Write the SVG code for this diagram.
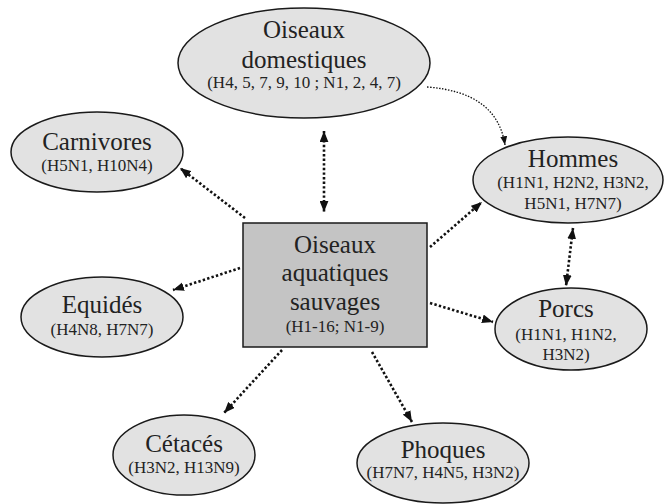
<svg xmlns="http://www.w3.org/2000/svg" width="666" height="504" viewBox="0 0 666 504" font-family="'Liberation Serif', 'DejaVu Serif', serif">
<style>
.node ellipse{fill:#e2e2e2;stroke:#1a1a1a;stroke-width:1.5}
.node rect{fill:#c4c4c4;stroke:#1a1a1a;stroke-width:1.5}
text{font-family:'Liberation Serif','DejaVu Serif',serif;fill:#222;text-anchor:middle}
.big{font-size:25px}
.small{font-size:17px}
.con{fill:none;stroke:#111;stroke-width:2.6;stroke-dasharray:2.4 2.2}
.thin{fill:none;stroke:#111;stroke-width:1.3;stroke-dasharray:1.5 1.5}
</style>
<defs>
<marker id="ah" viewBox="0 0 10 8" refX="10" refY="4" markerWidth="11" markerHeight="9" markerUnits="userSpaceOnUse" orient="auto-start-reverse">
<path d="M0,0 L10,4 L0,8 z" fill="#111"/>
</marker>
<marker id="ahs" viewBox="0 0 10 8" refX="10" refY="4" markerWidth="9" markerHeight="7" markerUnits="userSpaceOnUse" orient="auto">
<path d="M0,0 L10,4 L0,8 z" fill="#111"/>
</marker>
</defs>
<g id="connectors">
<path class="con" d="M324,131 L324,212" marker-start="url(#ah)" marker-end="url(#ah)"/>
<path class="con" d="M573,228 L566,286" marker-start="url(#ah)" marker-end="url(#ah)"/>
<path class="con" d="M430,247 L482,202" marker-end="url(#ah)"/>
<path class="con" d="M430,303 L493,322" marker-end="url(#ah)"/>
<path class="con" d="M245,218 L180,168" marker-end="url(#ah)"/>
<path class="con" d="M240,268 L173,290" marker-end="url(#ah)"/>
<path class="con" d="M282,350 L224,413" marker-end="url(#ah)"/>
<path class="con" d="M372,352 L412,422" marker-end="url(#ah)"/>
<path class="thin" d="M427,87 Q497,92 505,145" marker-end="url(#ahs)"/>
</g>
<g id="oiseaux-domestiques" class="node">
<ellipse cx="304" cy="63" rx="126" ry="55"/>
<text class="big" x="304" y="38">Oiseaux</text>
<text class="big" x="304" y="68">domestiques</text>
<text class="small" x="304" y="88">(H4, 5, 7, 9, 10 ; N1, 2, 4, 7)</text>
</g>
<g id="carnivores" class="node">
<ellipse cx="97" cy="152" rx="86" ry="40"/>
<text class="big" x="97" y="150">Carnivores</text>
<text class="small" x="97" y="171">(H5N1, H10N4)</text>
</g>
<g id="hommes" class="node">
<ellipse cx="568" cy="180" rx="95" ry="43"/>
<text class="big" x="573" y="167">Hommes</text>
<text class="small" x="573" y="188">(H1N1, H2N2, H3N2,</text>
<text class="small" x="573" y="209">H5N1, H7N7)</text>
</g>
<g id="oiseaux-aquatiques-sauvages" class="node">
<rect x="243" y="223" width="184" height="124"/>
<text class="big" x="335" y="253">Oiseaux</text>
<text class="big" x="335" y="281">aquatiques</text>
<text class="big" x="335" y="310">sauvages</text>
<text class="small" x="335" y="332">(H1-16; N1-9)</text>
</g>
<g id="equides" class="node">
<ellipse cx="102" cy="317" rx="81" ry="40"/>
<text class="big" x="102" y="313">Equidés</text>
<text class="small" x="102" y="335">(H4N8, H7N7)</text>
</g>
<g id="porcs" class="node">
<ellipse cx="571" cy="329" rx="76" ry="41"/>
<text class="big" x="566" y="317">Porcs</text>
<text class="small" x="566" y="340">(H1N1, H1N2,</text>
<text class="small" x="566" y="360">H3N2)</text>
</g>
<g id="cetaces" class="node">
<ellipse cx="184" cy="455" rx="71" ry="40"/>
<text class="big" x="184" y="452">Cétacés</text>
<text class="small" x="184" y="473">(H3N2, H13N9)</text>
</g>
<g id="phoques" class="node">
<ellipse cx="443" cy="463" rx="86" ry="40"/>
<text class="big" x="443" y="458">Phoques</text>
<text class="small" x="443" y="478">(H7N7, H4N5, H3N2)</text>
</g>
</svg>
